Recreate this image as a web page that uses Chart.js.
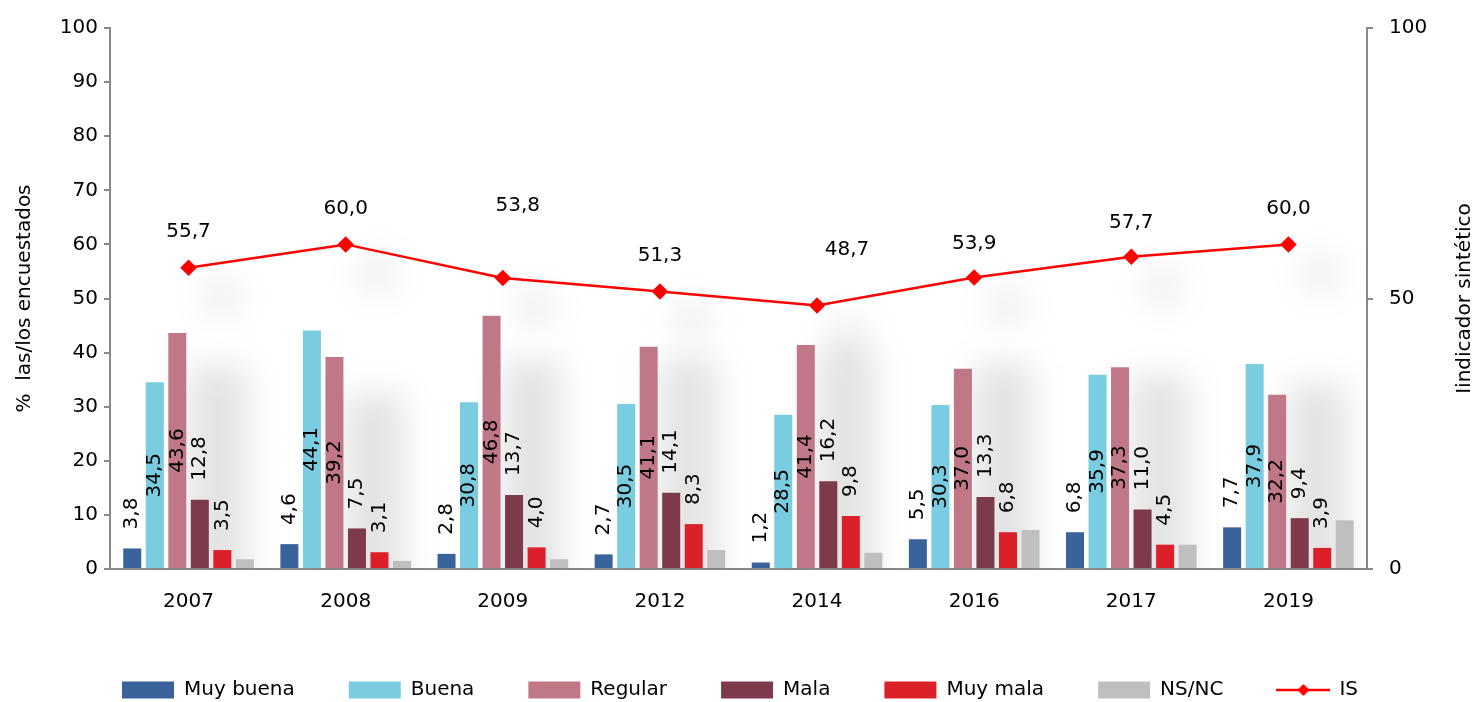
<!DOCTYPE html>
<html>
<head>
<meta charset="utf-8">
<script src="https://cdn.jsdelivr.net/npm/chart.js@4.4.1/dist/chart.umd.min.js"></script>
<style>
  html, body { margin: 0; padding: 0; background: #fff; }
  #wrap { width: 1480px; height: 702px; }
</style>
</head>
<body>
<div id="wrap"><canvas id="opinionChart"></canvas></div>
<script>
// survey years and shares (%) per answer
const years = ['2007', '2008', '2009', '2012', '2014', '2016', '2017', '2019'];
const muyBuena = [3.8, 4.6, 2.8, 2.7, 1.2, 5.5, 6.8, 7.7];
const buena = [34.5, 44.1, 30.8, 30.5, 28.5, 30.3, 35.9, 37.9];
const regular = [43.6, 39.2, 46.8, 41.1, 41.4, 37.0, 37.3, 32.2];
const mala = [12.8, 7.5, 13.7, 14.1, 16.2, 13.3, 11.0, 9.4];
const muyMala = [3.5, 3.1, 4.0, 8.3, 9.8, 6.8, 4.5, 3.9];
const nsnc = [1.8, 1.5, 1.8, 3.5, 3.0, 7.2, 4.5, 9.0];
// synthetic indicator (right axis)
const indicador = [55.7, 60.0, 53.8, 51.3, 48.7, 53.9, 57.7, 60.0];
const rightTicks = [0, 50, 100];

// where each IS label sits relative to its point (px)
const isLabelShift = [[0, -36], [0, -36], [15, -72], [0, -36], [30, -56], [0, -34], [0, -34], [0, -36]];

const FONT = '"DejaVu Sans", Verdana, sans-serif';
const AXIS = '#898989';
const fmt = v => v.toFixed(1).replace('.', ',');

Chart.defaults.font.family = FONT;
Chart.defaults.font.size = 20;
Chart.defaults.color = '#000';

// legend symbol for the IS line: red line with a diamond
const isIcon = document.createElement('canvas');
isIcon.width = 54;
isIcon.height = 14;
(function () {
  const g = isIcon.getContext('2d');
  g.strokeStyle = '#ff0000';
  g.fillStyle = '#ff0000';
  g.lineWidth = 2.5;
  g.beginPath(); g.moveTo(0, 7); g.lineTo(54, 7); g.stroke();
  g.beginPath(); g.moveTo(27, 1); g.lineTo(33, 7); g.lineTo(27, 13); g.lineTo(21, 7); g.closePath(); g.fill();
})();

// soft grey shadows left behind the label boxes (behind the bars)
const labelShadows = {
  id: 'labelShadows',
  beforeDatasetsDraw(chart) {
    const ctx = chart.ctx;
    const a = chart.chartArea;
    const y = chart.scales.y;
    const malaMeta = chart.getDatasetMeta(3);
    const mmMeta = chart.getDatasetMeta(4);
    const isMeta = chart.getDatasetMeta(6);
    ctx.save();
    ctx.beginPath();
    ctx.rect(a.left, a.top, a.right - a.left, a.bottom - a.top);
    ctx.clip();
    ctx.filter = 'blur(16px)';
    ctx.fillStyle = 'rgba(0, 0, 0, 0.11)';
    malaMeta.data.forEach((m, j) => {
      const cx = (m.x + mmMeta.data[j].x) / 2 + 6;
      const top = m.y - 19 - 45 - 70;
      ctx.fillRect(cx - 30, top, 60, y.bottom - top + 20);
    });
    ctx.fillStyle = 'rgba(0, 0, 0, 0.06)';
    isMeta.data.forEach(p => {
      ctx.beginPath();
      ctx.arc(p.x + 32, p.y + 30, 22, 0, Math.PI * 2);
      ctx.fill();
    });
    ctx.restore();
  }
};

// value labels: rotated on the bars, plain above the IS points
const valueLabels = {
  id: 'valueLabels',
  afterDatasetsDraw(chart) {
    const ctx = chart.ctx;
    ctx.save();
    ctx.font = '20px ' + FONT;
    ctx.fillStyle = '#000';
    ctx.textBaseline = 'middle';
    chart.data.datasets.forEach((ds, i) => {
      const meta = chart.getDatasetMeta(i);
      if (ds.type === 'line') {
        ctx.textAlign = 'center';
        meta.data.forEach((pt, j) => {
          const s = isLabelShift[j];
          ctx.fillText(fmt(ds.data[j]), pt.x + s[0], pt.y + s[1]);
        });
        return;
      }
      if (!ds.labelPos) return;
      meta.data.forEach((bar, j) => {
        ctx.save();
        if (ds.labelPos === 'center') {
          ctx.translate(bar.x, (bar.y + bar.base) / 2);
          ctx.textAlign = 'center';
        } else {
          ctx.translate(bar.x, bar.y - 19);
          ctx.textAlign = 'left';
        }
        ctx.rotate(-Math.PI / 2);
        ctx.fillText(fmt(ds.data[j]), 0, 0);
        ctx.restore();
      });
    });
    ctx.restore();
  }
};

// right axis title reads bottom to top like the left one
const rightTitle = {
  id: 'rightTitle',
  afterDraw(chart) {
    const ctx = chart.ctx;
    const a = chart.chartArea;
    ctx.save();
    ctx.font = '20px ' + FONT;
    ctx.fillStyle = '#000';
    ctx.textAlign = 'center';
    ctx.textBaseline = 'middle';
    ctx.translate(1465, (a.top + a.bottom) / 2);
    ctx.rotate(-Math.PI / 2);
    ctx.fillText('Iindicador sintético', 0, 0);
    ctx.restore();
  }
};

const bar = (label, data, color, labelPos) => ({
  label, data, labelPos,
  backgroundColor: color,
  borderWidth: 0,
  yAxisID: 'y',
  categoryPercentage: 0.86,
  barPercentage: 0.8
});

new Chart(document.getElementById('opinionChart'), {
  type: 'bar',
  data: {
    labels: years,
    datasets: [
      bar('Muy buena', muyBuena, '#3a639c', 'end'),
      bar('Buena', buena, '#7acde0', 'center'),
      bar('Regular', regular, '#c07888', 'center'),
      bar('Mala', mala, '#7d3a4a', 'end'),
      bar('Muy mala', muyMala, '#dc2029', 'end'),
      bar('NS/NC', nsnc, '#bfbfbf', null),
      {
        type: 'line',
        label: 'IS',
        data: indicador,
        yAxisID: 'y1',
        borderColor: '#ff0000',
        backgroundColor: '#ff0000',
        borderWidth: 2.5,
        pointStyle: 'rectRot',
        pointRadius: 6.5,
        pointHoverRadius: 6.5,
        tension: 0
      }
    ]
  },
  options: {
    responsive: true,
    maintainAspectRatio: false,
    animation: false,
    layout: { padding: { top: 25, left: 0, right: 0, bottom: -8 } },
    plugins: {
      tooltip: { enabled: false },
      legend: {
        position: 'bottom',
        labels: {
          usePointStyle: true,
          pointStyleWidth: 52,
          boxHeight: 17,
          padding: 54,
          font: { size: 20 },
          generateLabels(chart) {
            const items = Chart.defaults.plugins.legend.labels.generateLabels(chart);
            items.forEach(it => {
              it.pointStyle = it.datasetIndex === 6 ? isIcon : 'rect';
              it.lineWidth = 0;
            });
            return items;
          }
        }
      }
    },
    scales: {
      x: {
        grid: { display: false, drawTicks: false },
        border: { color: AXIS, width: 2 },
        ticks: { padding: 21, font: { size: 20 } },
        afterFit(scale) { scale.height = 57; }
      },
      y: {
        position: 'left',
        min: 0,
        max: 100,
        ticks: { stepSize: 10, padding: 6, font: { size: 20 } },
        grid: { drawOnChartArea: false, drawTicks: true, tickLength: 6, color: AXIS, lineWidth: 2 },
        border: { color: AXIS, width: 2 },
        title: { display: true, text: '%  las/los encuestados', font: { size: 20 }, padding: { top: 13, bottom: 0 } },
        afterFit(scale) { scale.width = 110; }
      },
      y1: {
        position: 'right',
        min: 0,
        max: 100,
        afterBuildTicks(scale) { scale.ticks = rightTicks.map(v => ({ value: v })); },
        ticks: { padding: 16, font: { size: 20 } },
        grid: { drawOnChartArea: false, drawTicks: true, tickLength: 6, color: AXIS, lineWidth: 2 },
        border: { color: AXIS, width: 2 },
        afterFit(scale) { scale.width = 113; }
      }
    }
  },
  plugins: [labelShadows, valueLabels, rightTitle]
});
</script>
</body>
</html>
